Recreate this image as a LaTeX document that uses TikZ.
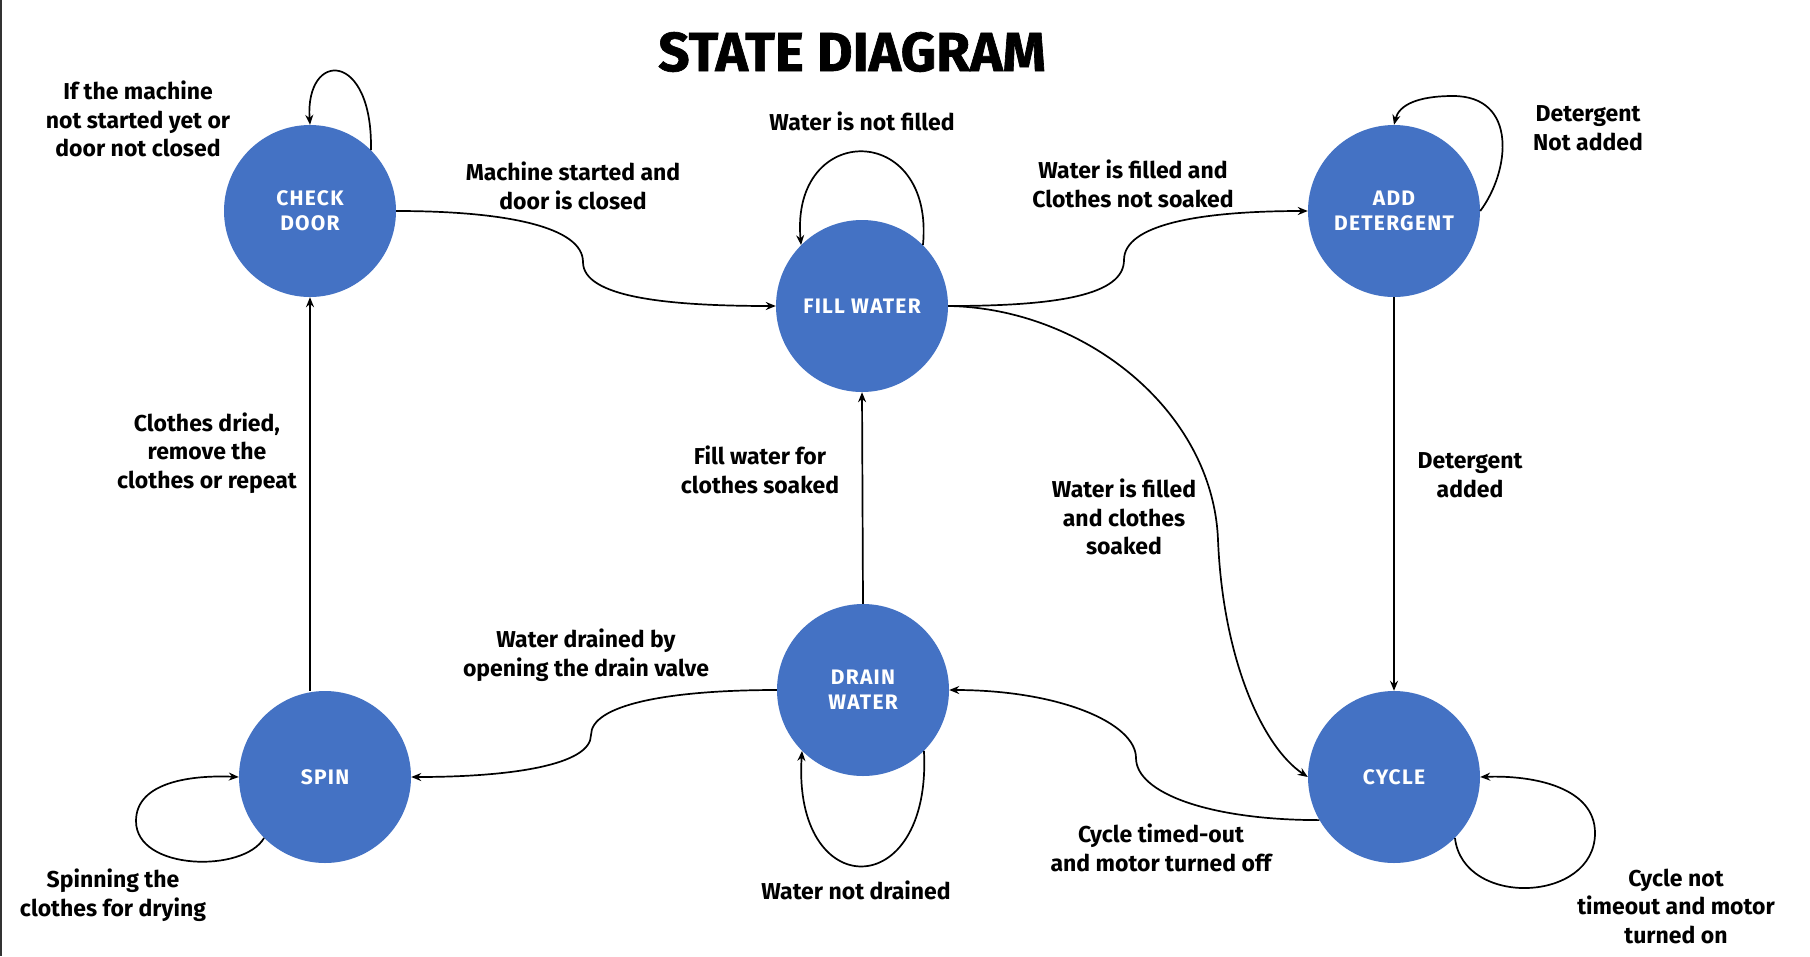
\documentclass[tikz,border=0pt]{standalone}
\usepackage{fontspec}
\setmainfont{Fira Sans}
\newfontfamily\nodefont{Fira Sans}[LetterSpace=6]
\newfontfamily\titlefont{Fira Sans}[FakeBold=1.2]
\usetikzlibrary{arrows.meta}
\definecolor{stateblue}{HTML}{4472C4}
\begin{document}
\begin{tikzpicture}[x=1pt,y=-1pt,
  stnode/.style={circle, fill=stateblue, minimum size=172pt, inner sep=0pt, text=white, align=center, font=\nodefont\fontsize{21}{25}\selectfont\bfseries},
  lbl/.style={align=center, inner sep=0pt, font=\fontsize{23}{28.5}\selectfont\bfseries},
  arr/.style={-{Stealth[length=10pt,width=8pt]}, line width=1.7pt, black}]
\useasboundingbox (0,0) rectangle (1810,956);
\fill[white] (0,0) rectangle (1810,956);
\draw[line width=2pt, black!80] (1,0) -- (1,956);

\node[font=\titlefont\fontsize{55}{60}\selectfont\bfseries] (title) at (852,52) {STATE DIAGRAM};

\node[stnode] (CD) at (310,211) {CHECK\\DOOR};
\node[stnode] (FW) at (862,306) {FILL WATER};
\node[stnode] (AD) at (1394,211) {ADD\\DETERGENT};
\node[stnode] (SP) at (325,777) {SPIN};
\node[stnode] (DW) at (863,690) {DRAIN\\WATER};
\node[stnode] (CY) at (1394,777) {CYCLE};

\node[lbl] (L1) at (138,119) {If the machine\\not started yet or\\door not closed};
\node[lbl] (L2) at (573,186) {Machine started and\\door is closed};
\node[lbl] (L3) at (862,121) {Water is not filled};
\node[lbl] (L4) at (1133,184) {Water is filled and\\Clothes not soaked};
\node[lbl] (L5) at (1588,128) {Detergent\\Not added};
\node[lbl] (L6) at (207,453) {Clothes dried,\\remove the\\clothes or repeat};
\node[lbl] (L7) at (760,470) {Fill water for\\clothes soaked};
\node[lbl] (L8) at (1124,517) {Water is filled\\and clothes\\soaked};
\node[lbl] (L9) at (1470,475) {Detergent\\added};
\node[lbl] (L10) at (586,655) {Water drained by\\opening the drain valve};
\node[lbl] (L11) at (113,895) {Spinning the\\clothes for drying};
\node[lbl] (L12) at (856,890) {Water not drained};
\node[lbl] (L13) at (1161,848) {Cycle timed-out\\and motor turned off};
\node[lbl] (L14) at (1676,906) {Cycle not\\timeout and motor\\turned on};

\coordinate (m1) at (583,262);
\coordinate (m2) at (1124,260);
\coordinate (m3) at (1218,540);
\coordinate (m4) at (1136,758);
\coordinate (m5) at (591,735);
\coordinate (a6) at (1453,96);
\coordinate (l1) at (136,821);
\coordinate (l2) at (1595,833);

% transitions
\draw[arr] (CD.east) .. controls +(110,0) and +(0,-35) .. (m1) .. controls +(0,35) and +(-110,0) .. (FW.west);
\draw[arr] (FW.east) .. controls +(110,0) and +(0,35) .. (m2) .. controls +(0,-35) and +(-110,0) .. (AD.west);
\draw[arr] (FW.east) .. controls +(135,2) and +(-5,-130) .. (m3) .. controls +(5,120) and +(-45,-30) .. (CY.west);
\draw[arr] (AD.south) -- (CY.north);
\draw[arr] (CY.210) .. controls +(-110,0) and +(0,35) .. (m4) .. controls +(0,-35) and +(110,0) .. (DW.east);
\draw[arr] (DW.west) .. controls +(-110,0) and +(0,-30) .. (m5) .. controls +(0,30) and +(100,0) .. (SP.east);
\draw[arr] (SP.north -| CD.south) -- (CD.south);
\draw[arr] (DW.north) -- (FW.south);

% self loops
\draw[arr] (CD.45) .. controls +(2,-100) and +(-5,-75) .. (CD.north);
\draw[arr] (FW.45) .. controls +(12,-124) and +(-11,-124) .. (FW.135);
\draw[arr] (AD.east) .. controls +(30,-40) and +(65,0) .. (a6) .. controls +(-35,0) and +(5,-20) .. (AD.north);
\draw[arr] (DW.-45) .. controls +(8,153) and +(-10,153) .. (DW.-135);
\draw[arr] (SP.225) .. controls +(-20,35) and +(0,50) .. (l1) .. controls +(0,-40) and +(-45,-2) .. (SP.west);
\draw[arr] (CY.-45) .. controls +(8,70) and +(0,70) .. (l2) .. controls +(0,-45) and +(55,-2) .. (CY.east);
\end{tikzpicture}
\end{document}
